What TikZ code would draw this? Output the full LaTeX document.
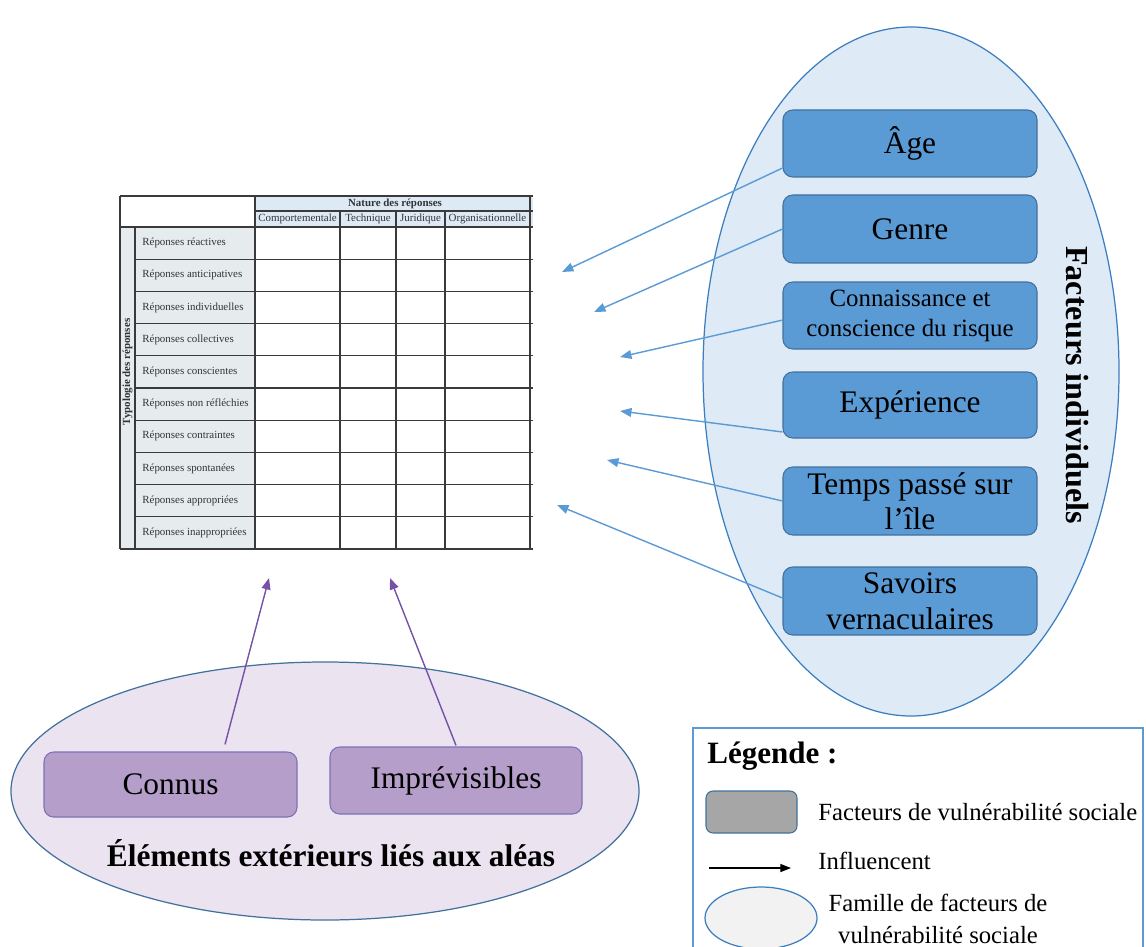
\documentclass[tikz,border=0pt]{standalone}
\usepackage{fontspec}
\setmainfont{Liberation Serif}
\usetikzlibrary{shapes.geometric,arrows.meta,calc}
\definecolor{boxblue}{HTML}{5B9BD5}
\definecolor{boxedge}{HTML}{41719C}
\definecolor{famblue}{HTML}{DEEBF7}
\definecolor{famedge}{HTML}{3A7EBF}
\definecolor{lavender}{HTML}{EBE3F0}
\definecolor{purplebox}{HTML}{B59FCA}
\definecolor{purpleedge}{HTML}{7A72B5}
\definecolor{purplearrow}{HTML}{7651A8}
\definecolor{hdrblue}{HTML}{DDEAF6}
\definecolor{lblgray}{HTML}{E6ECEE}
\definecolor{tline}{HTML}{3A3A3A}
\definecolor{ttext}{HTML}{333333}
\definecolor{legray}{HTML}{A6A6A6}
\begin{document}
\begin{tikzpicture}[x=0.5669pt,y=-0.5669pt,
  sz/.style 2 args={minimum width=#1*0.5669pt,minimum height=#2*0.5669pt},
  bigtxt/.style={font=\fontsize{17.8}{20.5}\selectfont},
  bbox/.style={draw=boxedge,fill=boxblue,rounded corners=5.5pt,inner sep=0pt,line width=0.6pt,align=center,bigtxt},
  pbox/.style={draw=purpleedge,fill=purplebox,rounded corners=5.5pt,inner sep=0pt,line width=0.6pt,align=center,bigtxt},
  barrow/.style={draw=boxblue,line width=0.8pt,-{Triangle[length=6.5pt,width=5pt]}},
  parrow/.style={draw=purplearrow,line width=0.8pt,-{Triangle[length=6.5pt,width=5pt]}},
  tbl/.style={font=\fontsize{6.2}{7}\selectfont,text=ttext,inner sep=0pt},
  tblb/.style={font=\fontsize{6.2}{7}\selectfont\bfseries,text=ttext,inner sep=0pt},
  tl/.style={draw=tline,line width=0.65pt}]
\useasboundingbox (0,0) rectangle (1146,947);
\clip (0,0) rectangle (1146,947);

% ---------- table ----------
\fill[hdrblue] (255,196) rectangle (533,227);
\fill[lblgray] (120,227) rectangle (255,549);
\draw[tl] (120,196) -- (533,196);
\draw[tl] (255,211) -- (533,211);
\draw[tl] (120,227) -- (533,227);
\foreach \i in {1,...,9}{
  \draw[tl] (135,{227+\i*32.2}) -- (533,{227+\i*32.2});
}
\draw[tl] (120,549) -- (533,549);
\draw[tl] (120,196) -- (120,549);
\draw[tl] (135,227) -- (135,549);
\draw[tl] (255,196) -- (255,549);
\draw[tl] (340,211) -- (340,549);
\draw[tl] (396,211) -- (396,549);
\draw[tl] (445,211) -- (445,549);
\draw[tl] (530,196) -- (530,549);
\node[tblb] (hnat) at (395,203.5) {Nature des réponses};
\node[tbl] (hc1) at (297.5,219) {Comportementale};
\node[tbl] (hc2) at (368,219) {Technique};
\node[tbl] (hc3) at (420.5,219) {Juridique};
\node[tbl] (hc4) at (487.5,219) {Organisationnelle};
\node[tblb,rotate=90] (typo) at (127.5,372) {Typologie des réponses};
\foreach \t [count=\i from 0] in {Réponses réactives,Réponses anticipatives,Réponses individuelles,Réponses collectives,Réponses conscientes,Réponses non réfléchies,Réponses contraintes,Réponses spontanées,Réponses appropriées,Réponses inappropriées}{
  \node[tbl,anchor=west] (r\i) at (142,{243.1+\i*32.2}) {\t};
}

% ---------- right family ----------
\node[draw=famedge,fill=famblue,ellipse,line width=0.7pt,inner sep=0pt,sz={416}{689}] (indiv) at (911,371.5) {};
\node[bbox,sz={254}{67}] (age) at (910,143.5) {Âge};
\node[bbox,sz={254}{68}] (genre) at (910,229) {Genre};
\node[bbox,sz={254}{67},font=\fontsize{14.1}{17}\selectfont] (conn) at (910,315.5) {Connaissance et\\conscience du risque};
\node[bbox,sz={254}{66}] (exp) at (910,405) {Expérience};
\node[bbox,sz={254}{68},font=\fontsize{17.8}{19.8}\selectfont] (temps) at (910,501) {Temps passé sur\\l’île};
\node[bbox,sz={254}{68}] (sav) at (910,601) {Savoirs\\vernaculaires};
\node[font=\fontsize{18.2}{20}\selectfont\bfseries,rotate=-90] (findiv) at (1077,385) {Facteurs individuels};

\coordinate (tA) at (562,272);
\coordinate (tG) at (594,312);
\coordinate (tC) at (620,357);
\coordinate (tE) at (620,411);
\coordinate (tT) at (607,460);
\coordinate (tS) at (557,505);
\draw[barrow] ([yshift=-13.9pt]age.west) -- (tA);
\draw[barrow] (genre.west) -- (tG);
\draw[barrow] ([yshift=-2.6pt]conn.west) -- (tC);
\draw[barrow] ([yshift=-15.3pt]exp.west) -- (tE);
\draw[barrow] (temps.west) -- (tT);
\draw[barrow] ([yshift=1.7pt]sav.west) -- (tS);

% ---------- bottom family ----------
\node[draw=boxedge,fill=lavender,ellipse,line width=0.7pt,inner sep=0pt,sz={628}{258}] (ext) at (325,791) {};
\node[pbox,sz={253}{65}] (connus) at (170.5,784.5) {Connus};
\node[pbox,sz={252}{67}] (impr) at (456,780.5) {Imprévisibles};
\node[font=\fontsize{17.8}{20}\selectfont\bfseries] (extlbl) at (331,853) {Éléments extérieurs liés aux aléas};
\coordinate (tK) at (269,578);
\coordinate (tI) at (390,578);
\draw[parrow] ([xshift=30.9pt,yshift=4pt]connus.north) -- (tK);
\draw[parrow] ([yshift=0.6pt]impr.north) -- (tI);

% ---------- legend ----------
\node[draw=boxblue,line width=0.9pt,inner sep=0pt,sz={450}{242}] (leg) at (918,849) {};
\node[font=\fontsize{17.6}{20}\selectfont\bfseries,anchor=west,inner sep=0pt] (legt) at (707,756) {Légende :};
\node[draw=boxedge,fill=legray,rounded corners=4pt,inner sep=0pt,line width=0.6pt,sz={91}{42}] (legbox) at (751.5,812) {};
\node[font=\fontsize{14}{16}\selectfont,anchor=west,inner sep=0pt] (legboxt) at (818,812) {Facteurs de vulnérabilité sociale};
\coordinate (la1) at (709,868);
\coordinate (la2) at (791,868);
\draw[line width=0.8pt,-{Triangle[length=6pt,width=4.5pt]}] (la1) -- (la2);
\node[font=\fontsize{14}{16}\selectfont,anchor=west,inner sep=0pt] (legarrt) at (818,861) {Influencent};
\node[draw=famedge,fill=black!5,ellipse,line width=0.7pt,inner sep=0pt,sz={112}{62}] (legell) at (761,918) {};
\node[font=\fontsize{14}{18}\selectfont,align=center,inner sep=0pt] (legellt) at (938,919) {Famille de facteurs de\\vulnérabilité sociale};
\end{tikzpicture}
\end{document}
